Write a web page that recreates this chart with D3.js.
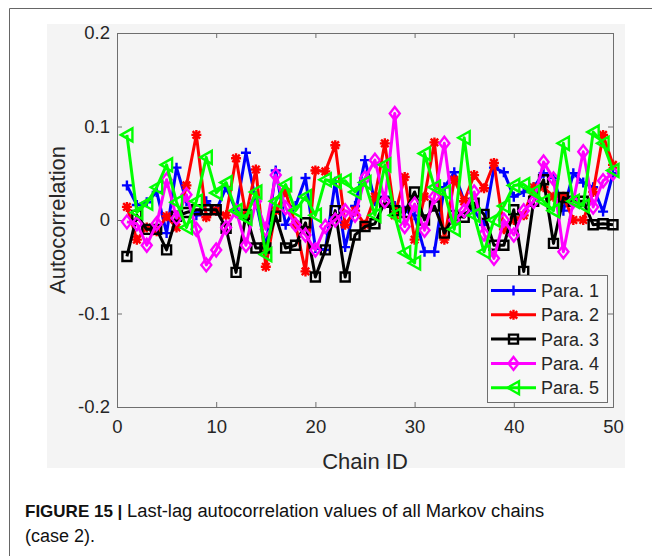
<!DOCTYPE html>
<html>
<head>
<meta charset="utf-8">
<script src="https://cdn.jsdelivr.net/npm/d3@7"></script>
<style>
  body { margin: 0; background: #fff; }
  svg { display: block; }
  text { font-family: "Liberation Sans", Arial, sans-serif; fill: #262626; }
  .caption { font-family: "Liberation Sans Narrow", "Arial Narrow", "Liberation Sans", sans-serif; fill: #111; }
</style>
</head>
<body>
<svg width="652" height="556"></svg>
<script>
// chain ids 1..50
var chains = d3.range(1, 51);

var para1 = [0.037, 0.016, 0.019, 0.030, -0.014, 0.056, 0.020, 0.005, 0.020, 0.010,
             0.035, 0.010, 0.072, 0.020, -0.030, 0.053, -0.005, 0.015, 0.045, -0.030,
             -0.032, 0.041, -0.029, 0.015, 0.064, 0.020, 0.025, 0.015, 0.010, 0.005,
             -0.034, -0.034, 0.035, 0.051, 0.020, 0.010, -0.005, 0.056, 0.051, 0.025,
             0.030, 0.035, 0.050, 0.045, 0.010, 0.050, 0.040, 0.035, 0.009, 0.050];
var para2 = [0.014, -0.021, -0.008, -0.012, 0.004, -0.008, 0.037, 0.091, 0.003, 0.010,
             0.005, 0.066, 0.005, 0.054, -0.050, 0.010, 0.030, -0.005, -0.055, 0.053,
             0.052, 0.080, -0.005, 0.010, -0.005, 0.025, 0.082, 0.005, 0.046, -0.021,
             0.025, 0.083, -0.021, 0.043, 0.020, 0.048, 0.034, 0.061, -0.010, 0.000,
             0.005, 0.035, 0.035, 0.025, 0.025, 0.000, 0.000, 0.030, 0.091, 0.059];
var para3 = [-0.039, 0.005, -0.010, -0.010, -0.032, 0.004, 0.008, 0.011, 0.011, 0.011,
             -0.009, -0.056, 0.006, -0.030, -0.030, 0.004, -0.030, -0.027, -0.003, -0.061,
             -0.032, 0.010, -0.061, -0.016, -0.007, -0.004, 0.019, 0.010, 0.008, 0.030,
             0.000, 0.015, -0.014, 0.005, 0.003, 0.018, 0.006, -0.027, -0.027, 0.011,
             -0.055, 0.020, 0.043, -0.025, 0.024, 0.020, 0.020, -0.005, -0.004, -0.005];
var para4 = [-0.002, -0.004, -0.027, -0.004, 0.043, 0.002, 0.027, -0.010, -0.048, -0.032,
             -0.008, 0.010, -0.027, 0.020, -0.010, 0.048, 0.013, -0.005, -0.016, -0.032,
             -0.007, 0.000, 0.010, 0.005, 0.045, 0.064, 0.020, 0.114, -0.007, 0.017,
             -0.011, 0.025, 0.082, 0.000, 0.010, 0.030, -0.015, -0.041, 0.000, -0.016,
             0.010, 0.020, 0.062, 0.044, -0.034, 0.020, 0.073, 0.014, 0.042, 0.050];
var para5 = [0.091, 0.008, 0.018, 0.035, 0.059, 0.019, -0.008, 0.020, 0.067, 0.029,
             0.040, 0.010, 0.002, 0.030, -0.037, 0.020, 0.038, 0.010, 0.025, 0.005,
             0.043, 0.041, 0.042, 0.030, 0.040, 0.005, 0.059, 0.005, -0.035, -0.046,
             0.071, 0.035, 0.030, -0.010, 0.088, 0.005, -0.034, 0.000, 0.015, 0.037,
             0.038, 0.030, 0.020, 0.010, 0.082, 0.020, 0.015, 0.094, 0.082, 0.053];

var seriesNames = ["Para. 1", "Para. 2", "Para. 3", "Para. 4", "Para. 5"];
var seriesValues = [para1, para2, para3, para4, para5];
var seriesColors = ["#0000ff", "#ff0000", "#000000", "#ff00ff", "#00ff00"];
var seriesMarkers = ["plus", "star", "square", "diamond", "triangleLeft"];

var xTicks = [0, 10, 20, 30, 40, 50];
var yTicks = [-0.2, -0.1, 0, 0.1, 0.2];

var svg = d3.select("svg");

// page frame + grey figure panel
svg.append("path")
    .attr("d", "M9.5,556V8.5H652")
    .attr("fill", "none")
    .attr("stroke", "#666")
    .attr("stroke-width", 1);

svg.append("rect")
    .attr("x", 47).attr("y", 24)
    .attr("width", 578).attr("height", 444)
    .attr("fill", "#f4f4f4");

var plot = {left: 117, right: 613, top: 33, bottom: 407};

var x = d3.scaleLinear().domain([0, 50]).range([plot.left, plot.right]);
var y = d3.scaleLinear().domain([-0.2, 0.2]).range([plot.bottom, plot.top]);

var tickLen = 5;

// axes, MATLAB style: ticks pointing inward on all four sides
svg.append("g")
    .attr("transform", "translate(0," + plot.bottom + ")")
    .call(d3.axisBottom(x).tickValues(xTicks).tickSize(-tickLen).tickPadding(13).tickFormat(d3.format("d")));
svg.append("g")
    .attr("transform", "translate(0," + plot.top + ")")
    .call(d3.axisTop(x).tickValues(xTicks).tickSize(-tickLen).tickFormat(""));
svg.append("g")
    .attr("transform", "translate(" + plot.left + ",0)")
    .call(d3.axisLeft(y).tickValues(yTicks).tickSize(-tickLen).tickPadding(7)
      .tickFormat(function(d) { return d === 0 ? "0" : d.toFixed(1); }));
svg.append("g")
    .attr("transform", "translate(" + plot.right + ",0)")
    .call(d3.axisRight(y).tickValues(yTicks).tickSize(-tickLen).tickFormat(""));

svg.selectAll(".domain, .tick line").attr("stroke", "#6e6e6e").attr("stroke-width", 1);
svg.selectAll(".tick text")
    .style("font-family", "'Liberation Sans', Arial, sans-serif")
    .style("font-size", "18.5px")
    .attr("fill", "#262626");

svg.append("text")
    .attr("x", x(25)).attr("y", 469)
    .attr("text-anchor", "middle")
    .style("font-size", "22px")
    .text("Chain ID");

svg.append("text")
    .attr("transform", "translate(65," + y(0) + ") rotate(-90)")
    .attr("text-anchor", "middle")
    .style("font-size", "22px")
    .text("Autocorrelation");

function markerPath(type) {
  var s = 5;
  switch (type) {
    case "plus":
      return "M" + (-s) + ",0H" + s + "M0," + (-s) + "V" + s;
    case "star":
      var d = s * 0.75;
      return "M" + (-s) + ",0H" + s + "M0," + (-s) + "V" + s +
             "M" + (-d) + "," + (-d) + "L" + d + "," + d +
             "M" + (-d) + "," + d + "L" + d + "," + (-d);
    case "square":
      return "M-4.5,-4.5H4.5V4.5H-4.5Z";
    case "diamond":
      return "M0,-6.5L5,0L0,6.5L-5,0Z";
    case "triangleLeft":
      return "M-6,0L5.5,-6.5V6.5Z";
  }
}

var line = d3.line()
    .x(function(d, i) { return x(chains[i]); })
    .y(function(d) { return y(d); });

var serie = svg.selectAll(".serie")
    .data(seriesValues)
  .enter().append("g")
    .attr("class", "serie");

serie.append("path")
    .attr("fill", "none")
    .attr("stroke", function(d, i) { return seriesColors[i]; })
    .attr("stroke-width", 3)
    .attr("stroke-linejoin", "round")
    .attr("d", line);

serie.each(function(vals, k) {
  d3.select(this).selectAll(".mark")
      .data(vals)
    .enter().append("path")
      .attr("class", "mark")
      .attr("transform", function(d, i) { return "translate(" + x(chains[i]) + "," + y(d) + ")"; })
      .attr("d", markerPath(seriesMarkers[k]))
      .attr("fill", "none")
      .attr("stroke", seriesColors[k])
      .attr("stroke-width", 2.4);
});

// legend
var legend = svg.append("g");
legend.append("rect")
    .attr("x", 487.5).attr("y", 275.5)
    .attr("width", 120).attr("height", 127)
    .attr("fill", "#f7f7f7")
    .attr("stroke", "#6e6e6e");

var item = legend.selectAll(".item")
    .data(seriesNames)
  .enter().append("g")
    .attr("class", "item")
    .attr("transform", function(d, i) { return "translate(0," + (290.5 + i * 24.3) + ")"; });

item.append("line")
    .attr("x1", 491).attr("x2", 536)
    .attr("stroke", function(d, i) { return seriesColors[i]; })
    .attr("stroke-width", 3);
item.append("path")
    .attr("transform", "translate(513.5,0)")
    .attr("d", function(d, i) { return markerPath(seriesMarkers[i]); })
    .attr("fill", "none")
    .attr("stroke", function(d, i) { return seriesColors[i]; })
    .attr("stroke-width", 2.4);
item.append("text")
    .attr("x", 541).attr("dy", "0.36em")
    .style("font-size", "18px")
    .text(function(d) { return d; });

// caption
var cap = svg.append("text")
    .attr("class", "caption")
    .attr("x", 25).attr("y", 517)
    .style("font-size", "18px");
cap.append("tspan").style("font-weight", "bold").style("font-size", "17px").text("FIGURE 15 | ");
cap.append("tspan")
    .attr("textLength", 417)
    .attr("lengthAdjust", "spacingAndGlyphs")
    .text("Last-lag autocorrelation values of all Markov chains");
svg.append("text")
    .attr("class", "caption")
    .attr("x", 25).attr("y", 542)
    .style("font-size", "18px")
    .text("(case 2).");
</script>
</body>
</html>
